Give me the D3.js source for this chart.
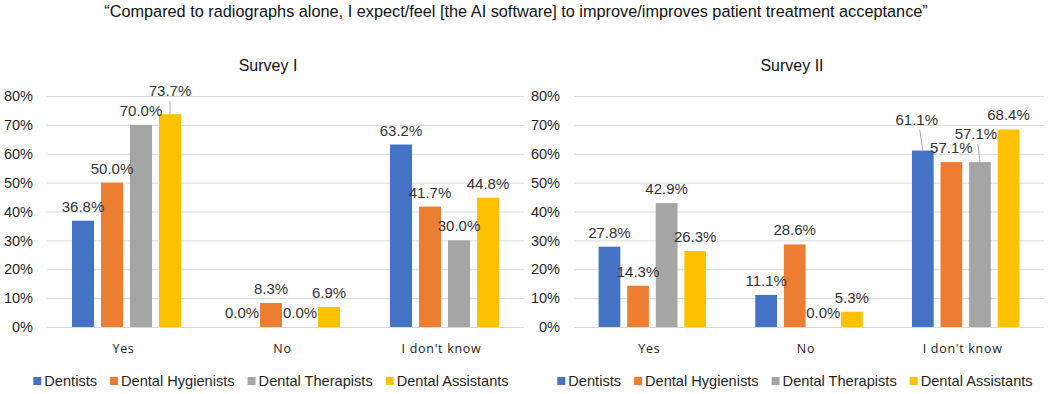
<!DOCTYPE html>
<html>
<head>
<meta charset="utf-8">
<script src="https://cdn.jsdelivr.net/npm/d3@7"></script>
<style>
  body { margin: 0; background: #fff; }
  text { font-family: "Liberation Sans", Arial, sans-serif; }
</style>
</head>
<body>
<div id="chart"></div>
<script>
// categories / series
const categories = ["Yes", "No", "I don't know"];
const groups = ["Dentists", "Dental Hygienists", "Dental Therapists", "Dental Assistants"];
const colors = ["#4472C4", "#ED7D31", "#A5A5A5", "#FFC000"];
const yTicks = [0, 10, 20, 30, 40, 50, 60, 70, 80];

// Survey I values (%), one array per group, in category order
const s1_dentists = [36.8, 0.0, 63.2];
const s1_hygienists = [50.0, 8.3, 41.7];
const s1_therapists = [70.0, 0.0, 30.0];
const s1_assistants = [73.7, 6.9, 44.8];

// Survey II values (%)
const s2_dentists = [27.8, 11.1, 61.1];
const s2_hygienists = [14.3, 28.6, 57.1];
const s2_therapists = [42.9, 0.0, 57.1];
const s2_assistants = [26.3, 5.3, 68.4];

const title = "\u201cCompared to radiographs alone, I expect/feel [the AI software] to improve/improves patient treatment acceptance\u201d";

const W = 1049, H = 394;

let svg = d3.select("#chart")
  .append("svg")
    .attr("width", W)
    .attr("height", H);

svg.append("text")
  .attr("x", 516)
  .attr("y", 17)
  .attr("text-anchor", "middle")
  .style("font-size", "16.3px")
  .attr("fill", "#111")
  .text(title);

// y scale shared by both panels
let y = d3.scaleLinear([0, 80], [327, 96]);

// label nudges (moved labels with leader lines in the original)
const nudges1 = {"0-3": [0, -9]};
const nudges2 = {"2-0": [-6, -17], "2-2": [-4, -14]};

function drawPanel(name, series, x0, x1, center, nudges) {
  let g = svg.append("g");

  g.append("text")
    .attr("x", center)
    .attr("y", 71)
    .attr("text-anchor", "middle")
    .style("font-size", "16px")
    .attr("fill", "#111")
    .text(name);

  // grid + ticks
  let axis = g.append("g")
    .attr("transform", `translate(${x0},0)`)
    .call(d3.axisLeft(y).tickValues(yTicks).tickSize(-(x1 - x0)).tickPadding(14)
      .tickFormat(d => d + "%"));
  axis.select(".domain").remove();
  axis.selectAll(".tick line").attr("stroke", "#d9d9d9");
  axis.selectAll(".tick text")
    .style("font-size", "14.5px")
    .style("font-family", "'Liberation Sans', Arial, sans-serif")
    .attr("fill", "#1f1f1f");

  let x = d3.scaleBand(categories, [x0, x1]);
  let xs = d3.scaleBand(groups, [x.bandwidth() * 0.157, x.bandwidth() * 0.843]).paddingInner(0.24);

  // category labels
  g.selectAll(".cat")
    .data(categories)
    .join("text")
      .attr("class", "cat")
      .attr("x", d => x(d) + x.bandwidth() / 2 - 3)
      .attr("y", 353)
      .attr("text-anchor", "middle")
      .style("font-size", "12.5px")
      .style("font-family", "'Open Sans', sans-serif")
      .style("letter-spacing", "0.7px")
      .attr("fill", "#222")
      .text(d => d);

  let rows = [];
  categories.forEach((c, ci) => {
    groups.forEach((k, gi) => {
      let n = nudges[ci + "-" + gi] || [0, 0];
      rows.push({cat: c, key: k, gi: gi, value: series[gi][ci], dx: n[0], dy: n[1]});
    });
  });

  g.selectAll("rect.bar")
    .data(rows)
    .join("rect")
      .attr("class", "bar")
      .attr("x", d => x(d.cat) + xs(d.key))
      .attr("y", d => y(d.value))
      .attr("width", xs.bandwidth())
      .attr("height", d => y(0) - y(d.value))
      .attr("fill", d => colors[d.gi]);

  // leader lines for moved labels
  g.selectAll("line.leader")
    .data(rows.filter(d => d.dy < -5))
    .join("line")
      .attr("class", "leader")
      .attr("x1", d => x(d.cat) + xs(d.key) + xs.bandwidth() / 2 + d.dx * 0.5)
      .attr("y1", d => y(d.value) - 9 + d.dy + 5)
      .attr("x2", d => x(d.cat) + xs(d.key) + xs.bandwidth() / 2)
      .attr("y2", d => y(d.value))
      .attr("stroke", "#a6a6a6")
      .attr("stroke-width", 1);

  g.selectAll("text.val")
    .data(rows)
    .join("text")
      .attr("class", "val")
      .attr("x", d => x(d.cat) + xs(d.key) + xs.bandwidth() / 2 + d.dx)
      .attr("y", d => y(d.value) - 9 + d.dy)
      .attr("text-anchor", "middle")
      .style("font-size", "15px")
      .attr("fill", "#333")
      .text(d => d.value.toFixed(1) + "%");

  // legend, centered under the panel
  let leg = g.append("g");
  let items = leg.selectAll("g")
    .data(groups)
    .join("g");
  items.append("rect")
    .attr("width", 8)
    .attr("height", 8)
    .attr("y", 377)
    .attr("fill", (d, i) => colors[i]);
  items.append("text")
    .attr("x", 11)
    .attr("y", 386)
    .style("font-size", "14.6px")
    .attr("fill", "#1f1f1f")
    .text(d => d);
  let pos = 0;
  items.each(function() {
    d3.select(this).attr("transform", `translate(${pos},0)`);
    pos += 11 + this.querySelector("text").getComputedTextLength() + 13;
  });
  let total = pos - 13;
  leg.attr("transform", `translate(${center + 3 - total / 2},0)`);
}

drawPanel("Survey I", [s1_dentists, s1_hygienists, s1_therapists, s1_assistants], 47, 524, 268, nudges1);
drawPanel("Survey II", [s2_dentists, s2_hygienists, s2_therapists, s2_assistants], 574, 1044, 792, nudges2);
</script>
</body>
</html>
